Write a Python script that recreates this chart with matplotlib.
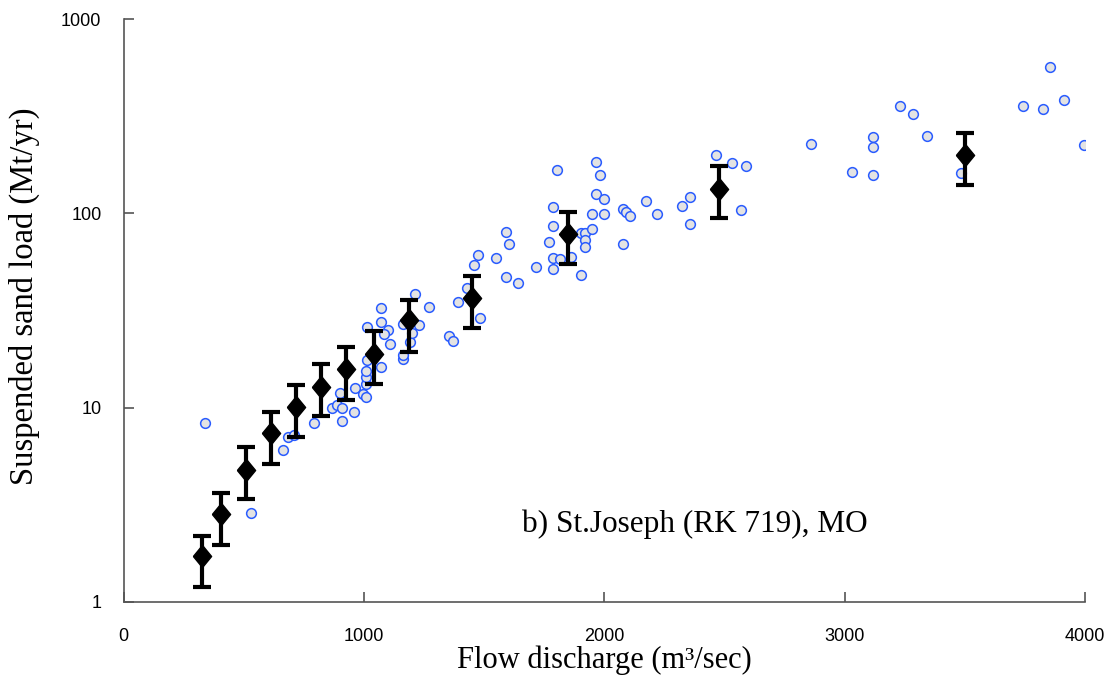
import numpy as np
import matplotlib.pyplot as plt

# scatter: individual observations
flow = np.array([340, 661, 685, 708, 792, 868, 886, 908, 908, 957,
                 899, 963, 997, 1008, 1008, 1008, 1008, 1011, 1070, 1011,
                 1070, 1070, 1099, 1083, 1110, 1161, 1161, 1161, 1192, 1199,
                 1229, 1214, 1272, 1355, 1370, 1393, 1430, 1483, 1458, 1474,
                 1550, 1589, 1603, 1589, 1642, 1714, 1771, 1785, 1785, 1801,
                 1785, 1785, 1817, 1863, 1904, 1904, 1921, 1921, 1921, 1950,
                 1950, 1967, 1983, 1967, 1997, 1997, 2076, 2092, 2108, 2076,
                 2174, 2221, 2324, 2358, 2358, 2463, 2533, 2589, 2570, 2861,
                 3032, 3117, 3117, 3117, 3230, 3286, 3343, 3483, 3742, 3826,
                 3854, 3911, 3995, 529])
sand = np.array([8.37, 6.06, 7.09, 7.23, 8.37, 9.93, 10.3, 9.93, 8.54, 9.50,
                 11.86, 12.58, 11.80, 11.31, 13.24, 14.33, 15.50, 17.6, 16.25, 25.9,
                 27.7, 32.7, 25.1, 23.9, 21.2, 17.9, 18.7, 26.9, 21.9, 24.1,
                 26.6, 38.3, 32.9, 23.5, 22.0, 35.1, 41.1, 29.0, 54.0, 61.3,
                 58.7, 79.9, 69.3, 46.9, 43.8, 53.1, 71.0, 86.4, 107.4, 167,
                 58.7, 51.5, 58.0, 59.4, 48.0, 78.9, 78.9, 72.9, 66.9, 82.8,
                 99.6, 125.8, 157.5, 183, 118.5, 99.6, 104.9, 101.6, 96.9, 69.3,
                 116.2, 99.6, 108.7, 121, 88.1, 199.6, 181, 175.2, 104.4, 226.6,
                 163.8, 248, 218.7, 157.5, 358, 325.6, 250.9, 160.7, 355.4, 343,
                 566, 381.6, 225.5, 2.87])

# binned means with error bars
bin_flow = np.array([325, 404, 508, 612, 717, 821, 925, 1042, 1188, 1450, 1850, 2479, 3500])
bin_mean = np.array([1.72, 2.84, 4.78, 7.41, 10.1, 12.8, 15.8, 18.9, 28.3, 36.7, 78.3, 133, 200])
bin_hi = np.array([2.19, 3.64, 6.28, 9.5, 13.1, 16.8, 20.5, 24.8, 35.8, 47.6, 101.6, 175, 259])
bin_lo = np.array([1.19, 1.96, 3.39, 5.13, 7.06, 9.06, 10.96, 13.2, 19.3, 25.7, 54.9, 94.7, 140])

fig = plt.figure(figsize=(11.14, 6.84), dpi=100)
ax = fig.add_axes([0.111, 0.12, 0.863, 0.852])

ax.plot(flow, sand, 'o', ms=7, mfc='#e3e3e3', mec='#2a5cff', mew=1.1, zorder=2)

diamond = [(-0.41, 0), (0, 0.5), (0.41, 0), (0, -0.5), (-0.41, 0)]
ax.errorbar(bin_flow, bin_mean, yerr=[bin_mean - bin_lo, bin_hi - bin_mean],
            fmt='none', ecolor='black', elinewidth=3, capsize=6.5, capthick=3, zorder=3)
ax.plot(bin_flow, bin_mean, marker=diamond, ls='none', ms=16, color='black', zorder=4)

ax.set_yscale('log')
ax.set_xlim(0, 4000)
ax.set_ylim(1, 1000)
ax.set_xticks([0, 1000, 2000, 3000, 4000])
ax.set_yticks([1, 10, 100, 1000])
ax.set_yticklabels(['1', '10', '100', '1000'])
ax.yaxis.set_minor_locator(plt.NullLocator())

for s in ['top', 'right']:
    ax.spines[s].set_visible(False)
for s in ['left', 'bottom']:
    ax.spines[s].set_color('#555555')
    ax.spines[s].set_linewidth(1.2)

ax.tick_params(direction='in', length=7, width=1.2, color='#555555', labelsize=13)
ax.tick_params(axis='x', pad=19)
ax.tick_params(axis='y', pad=16)
for lab in ax.get_xticklabels() + ax.get_yticklabels():
    lab.set_family('Liberation Sans')

ax.set_xlabel('Flow discharge (m³/sec)', family='Liberation Serif', fontsize=22, labelpad=0)
ax.set_ylabel('Suspended sand load (Mt/yr)', family='Liberation Serif', fontsize=23.5)
ax.yaxis.set_label_coords(-0.087, 0.525)

ax.text(1658, 2.29, 'b) St.Joseph (RK 719), MO', family='Liberation Serif', fontsize=22.5)

fig.savefig('out.png', dpi=100)
